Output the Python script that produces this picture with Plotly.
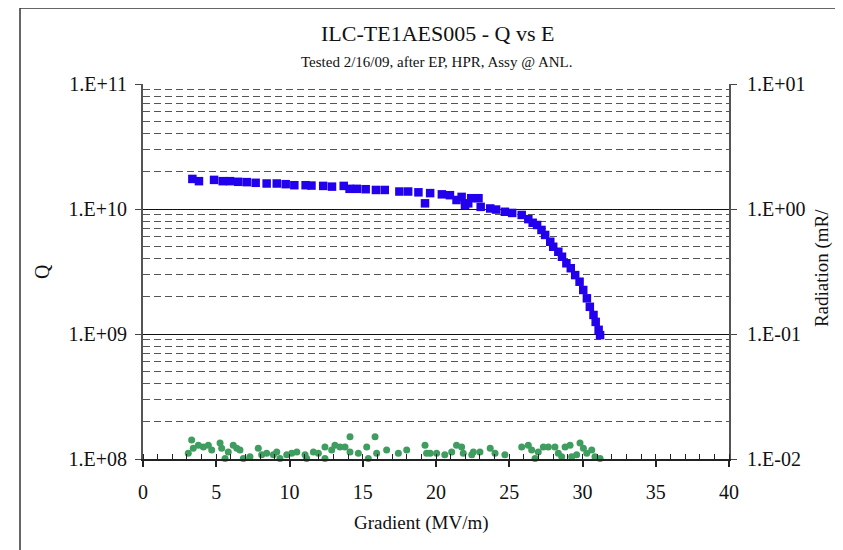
import plotly.graph_objects as go

# ---- data ----
gradient_q = [3.37, 3.82, 4.85, 5.44, 5.94, 6.5, 7.08, 7.69, 8.44, 9.13, 9.74, 10.33, 11.1, 11.5,
              12.3, 12.9, 13.7, 14.1, 14.6, 15.2, 15.9, 16.5, 17.5, 18.1, 18.8, 19.25, 19.6, 20.4,
              20.95, 21.4, 21.75, 21.98, 22.2, 22.4, 22.9, 23.05, 23.7, 24.1, 24.7, 25.2, 25.85,
              26.3, 26.6, 26.9, 27.2, 27.45, 27.8, 28.0, 28.35, 28.6, 28.9, 29.2, 29.5, 29.8,
              30.05, 30.3, 30.5, 30.75, 30.9, 31.1, 31.2]
q0 = [1.74e10, 1.67e10, 1.71e10, 1.67e10, 1.67e10, 1.65e10, 1.64e10, 1.62e10, 1.6e10, 1.6e10,
      1.58e10, 1.55e10, 1.55e10, 1.54e10, 1.53e10, 1.51e10, 1.53e10, 1.45e10, 1.45e10, 1.44e10,
      1.42e10, 1.42e10, 1.38e10, 1.38e10, 1.36e10, 1.11e10, 1.34e10, 1.31e10, 1.29e10, 1.18e10,
      1.25e10, 1.08e10, 1.11e10, 1.22e10, 1.22e10, 1.04e10, 1.01e10, 9.9e9, 9.5e9, 9.3e9,
      8.96e9, 8.3e9, 7.76e9, 7.45e9, 6.8e9, 6.2e9, 5.47e9, 4.99e9, 4.55e9, 4.15e9, 3.68e9,
      3.36e9, 2.96e9, 2.62e9, 2.25e9, 1.93e9, 1.65e9, 1.42e9, 1.25e9, 1.08e9, 0.98e9]

gradient_r = [3.09, 3.32, 3.43, 3.78, 4.12, 4.46, 4.69, 5.26, 5.37, 5.6, 5.82, 6.16, 6.4, 6.62,
              6.85, 7.3, 7.87, 8.1, 8.44, 8.9, 9.13, 9.35, 9.81, 10.15, 10.5, 11.06, 11.17, 11.63,
              11.97, 12.42, 12.42, 12.88, 13.1, 13.45, 13.79, 14.13, 14.13, 14.7, 15.27, 15.38,
              15.84, 15.95, 16.63, 17.43, 18.0, 19.25, 19.36, 19.6, 20.04, 20.6, 21.07, 21.4,
              21.75, 21.86, 22.44, 22.55, 23.0, 23.7, 24.03, 24.7, 25.85, 26.3, 26.53, 26.76,
              26.98, 27.33, 27.67, 28.12, 28.35, 28.58, 28.81, 29.15, 29.26, 29.6, 29.83, 30.06,
              30.29, 30.63, 30.85, 31.2]
radiation = [0.0111, 0.0142, 0.0122, 0.0129, 0.0125, 0.0129, 0.0118, 0.0134, 0.0122, 0.0101,
             0.0114, 0.0129, 0.0122, 0.0118, 0.0101, 0.0104, 0.0122, 0.0108, 0.0111, 0.0108,
             0.0114, 0.0101, 0.0108, 0.0111, 0.0114, 0.0108, 0.0101, 0.0114, 0.0111, 0.0125,
             0.0101, 0.0118, 0.0129, 0.0125, 0.0125, 0.0151, 0.0114, 0.0111, 0.0125, 0.0101,
             0.0151, 0.0111, 0.0118, 0.0111, 0.0118, 0.0129, 0.0111, 0.0111, 0.0111, 0.0108,
             0.0114, 0.0129, 0.0125, 0.0111, 0.0108, 0.0114, 0.0114, 0.0122, 0.0111, 0.0108,
             0.0125, 0.0129, 0.0118, 0.0101, 0.0114, 0.0125, 0.0125, 0.0125, 0.0111, 0.0104,
             0.0125, 0.0129, 0.0104, 0.0108, 0.0134, 0.0122, 0.0111, 0.0118, 0.0104, 0.0101]

x_ticks = [0, 5, 10, 15, 20, 25, 30, 35, 40]
q_ticks = [1e8, 1e9, 1e10, 1e11]
q_ticktext = ["1.E+08", "1.E+09", "1.E+10", "1.E+11"]
r_ticks = [0.01, 0.1, 1, 10]
r_ticktext = ["1.E-02", "1.E-01", "1.E+00", "1.E+01"]
q_minor = [m * 10 ** e for e in (8, 9, 10) for m in range(2, 10)]

FONT = "Liberation Serif"

fig = go.Figure()
fig.add_trace(go.Scatter(x=gradient_q, y=q0, mode="markers", name="Q",
                         marker=dict(symbol="square", size=8.5, color="#2200ee"),
                         cliponaxis=False, yaxis="y"))
fig.add_trace(go.Scatter(x=gradient_r, y=radiation, mode="markers", name="Radiation",
                         marker=dict(symbol="circle", size=7, color="#3f9d60"),
                         cliponaxis=False, yaxis="y2"))

fig.update_layout(
    width=843, height=550,
    margin=dict(l=135, r=122, t=76, b=99),
    paper_bgcolor="white", plot_bgcolor="white",
    showlegend=False,
    font=dict(family=FONT, color="#111", size=20),
    xaxis=dict(range=[0, 40], tickvals=x_ticks, ticks="outside", ticklen=6, tickwidth=1.5,
               tickcolor="#222", showline=True, linecolor="#222", linewidth=1.5,
               showgrid=False, zeroline=False, ticklabelstandoff=8,
               tickfont=dict(family=FONT, size=20),
               minor=dict(dtick=1, ticks="inside", ticklen=5, tickwidth=1, tickcolor="#222",
                          showgrid=False)),
    yaxis=dict(type="log", range=[8, 11], tickvals=q_ticks, ticktext=q_ticktext,
               ticks="outside", ticklen=6, tickcolor="#444", showline=True, linecolor="#555",
               linewidth=2, showgrid=True, gridcolor="#111", gridwidth=1, zeroline=False,
               ticklabelstandoff=4, tickfont=dict(family=FONT, size=20),
               minor=dict(tickvals=q_minor, showgrid=True, gridcolor="#555", gridwidth=1,
                          griddash="7px,4px", ticks="")),
    yaxis2=dict(type="log", range=[-2, 1], overlaying="y", side="right",
                tickvals=r_ticks, ticktext=r_ticktext, ticks="outside", ticklen=6,
                tickcolor="#444", showline=True, linecolor="#555", linewidth=2,
                showgrid=False, zeroline=False, ticklabelstandoff=6,
                tickfont=dict(family=FONT, size=20)),
)

fig.add_annotation(text="ILC-TE1AES005 - Q vs E", xref="paper", yref="paper", x=0.502, y=1.136,
                   showarrow=False, font=dict(family=FONT, size=22), xanchor="center", yanchor="middle")
fig.add_annotation(text="Tested 2/16/09, after EP, HPR, Assy @ ANL.", xref="paper", yref="paper",
                   x=0.502, y=1.0587, showarrow=False, font=dict(family=FONT, size=15),
                   xanchor="center", yanchor="middle")
fig.add_annotation(text="Gradient (MV/m)", xref="paper", yref="paper", x=0.475, y=-0.1707,
                   showarrow=False, font=dict(family=FONT, size=19), xanchor="center", yanchor="middle")
fig.add_annotation(text="Q", xref="paper", yref="paper", x=-0.172, y=0.499, textangle=-90,
                   showarrow=False, font=dict(family=FONT, size=20), xanchor="center", yanchor="middle")
fig.add_annotation(text="Radiation (mR/", xref="paper", yref="paper", x=1.1587, y=0.509,
                   textangle=-90, showarrow=False, font=dict(family=FONT, size=19),
                   xanchor="center", yanchor="middle")

# frame lines of the chart area (left and top edges)
fig.add_shape(type="line", xref="paper", yref="paper", x0=(20 - 143) / 586, x1=(20 - 143) / 586,
              y0=(459 - 8) / 375, y1=(459 - 552) / 375, line=dict(color="#333", width=1.5))
fig.add_shape(type="line", xref="paper", yref="paper", x0=(20 - 143) / 586, x1=(836 - 143) / 586,
              y0=(459 - 8) / 375, y1=(459 - 8) / 375, line=dict(color="#333", width=1.5))

fig.write_html("out.html")
